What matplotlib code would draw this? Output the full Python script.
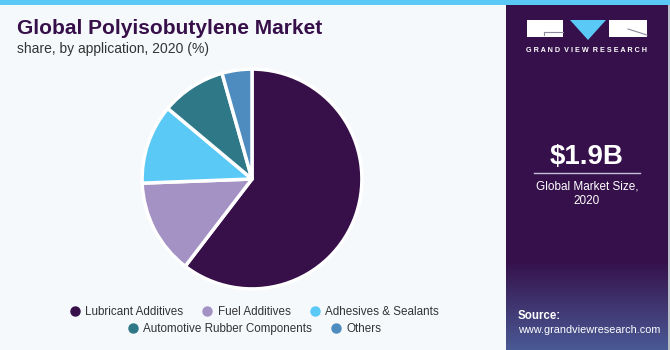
import numpy as np
import matplotlib.pyplot as plt
from matplotlib.lines import Line2D
from matplotlib.patches import Rectangle, Polygon

plt.rcParams['font.family'] = ['Liberation Sans', 'DejaVu Sans']

# Datos (porcentaje por aplicación, 2020)
categorias = ['Lubricant Additives', 'Fuel Additives', 'Adhesives & Sealants',
              'Automotive Rubber Components', 'Others']
valores = [60.4, 14.0, 11.7, 9.5, 4.4]
colores = ['#37104A', '#A492C4', '#5BC9F6', '#2E7888', '#4E8CBF']

titulo = 'Global Polyisobutylene Market'
subtitulo = 'share, by application, 2020 (%)'
tamano_mercado = '$1.9B'

W, H = 670, 350
fig = plt.figure(figsize=(W / 100, H / 100), dpi=100)
fig.patch.set_facecolor('#F5F9FC')

# Franja azul superior
fig.patches.append(Rectangle((0, 1 - 5 / H), 1, 5 / H, transform=fig.transFigure,
                             facecolor='#5BC9F6', edgecolor='none', zorder=5))

# Títulos
fig.text(17 / W, 1 - 28 / H, titulo, fontsize=15, fontweight='bold',
         color='#37104A', va='center', ha='left')
fig.text(17 / W, 1 - 49 / H, subtitulo, fontsize=10, color='#333333',
         va='center', ha='left')

# Gráfico de torta
cx, cy, r = 252, 179, 111
ax = fig.add_axes([(cx - r) / W, (H - cy - r) / H, 2 * r / W, 2 * r / H])
ax.pie(valores, colors=colores, startangle=90, counterclock=False,
       wedgeprops=dict(edgecolor='white', linewidth=2.5, joinstyle='round'))
ax.set_xlim(-1.01, 1.01)
ax.set_ylim(-1.01, 1.01)
ax.axis('off')

# Leyenda en dos filas
def manejador(c):
    return Line2D([], [], marker='o', linestyle='', markersize=6.5,
                  markerfacecolor=c, markeredgecolor=c)

handles = [manejador(c) for c in colores]
for idx, y in [((0, 1, 2), 312), ((3, 4), 329)]:
    leg = fig.legend([handles[i] for i in idx], [categorias[i] for i in idx],
                     loc='center', bbox_to_anchor=(254 / W, 1 - y / H),
                     ncol=len(idx), frameon=False, fontsize=8.4,
                     handletextpad=0.4, columnspacing=1.55, handlelength=1.0,
                     borderpad=0, borderaxespad=0)
    for t in leg.get_texts():
        t.set_color('#333333')

# Panel derecho
px0, px1 = 506, 668
panel = fig.add_axes([px0 / W, 0, (px1 - px0) / W, (H - 5) / H])
filas = 345
top = np.array([0x35, 0x10, 0x4A]) / 255
bottom = np.array([0x4A, 0x5A, 0x95]) / 255
grad = np.zeros((filas, 2, 3))
for i in range(filas):
    t = max(0, (i - 255) / (filas - 255))
    grad[i, :, :] = top * (1 - t) + bottom * t
panel.imshow(grad, aspect='auto', extent=[0, 1, 0, 1])
panel.set_xlim(0, 1)
panel.set_ylim(0, 1)
panel.axis('off')

# Borde gris a la derecha
fig.patches.append(Rectangle((px1 / W, 0), 2 / W, 1 - 5 / H, transform=fig.transFigure,
                             facecolor='#B8BEC6', edgecolor='none', zorder=5))

# Logo
def fx(x):
    return x / W

def fy(y):
    return 1 - y / H

fig.patches.append(Rectangle((fx(527), fy(37)), fx(36), 17 / H, transform=fig.transFigure,
                             facecolor='white', edgecolor='none', zorder=6))
fig.patches.append(Rectangle((fx(609), fy(37)), fx(38), 17 / H, transform=fig.transFigure,
                             facecolor='white', edgecolor='none', zorder=6))
fig.patches.append(Polygon([(fx(570), fy(20)), (fx(606), fy(20)), (fx(588), fy(40))],
                           closed=True, transform=fig.transFigure,
                           facecolor='#5BC9F6', edgecolor='none', zorder=6))
fig.lines.append(Line2D([fx(544), fx(563)], [fy(32), fy(32)], transform=fig.transFigure,
                        color='#8A8A9A', linewidth=0.8, zorder=7))
fig.lines.append(Line2D([fx(544), fx(544)], [fy(32), fy(35)], transform=fig.transFigure,
                        color='#8A8A9A', linewidth=0.8, zorder=7))
fig.lines.append(Line2D([fx(628), fx(647)], [fy(29), fy(35)], transform=fig.transFigure,
                        color='#8A8A9A', linewidth=0.8, zorder=7))
fig.text(fx(587), fy(51), 'G R A N D  V I E W  R E S E A R C H',
         fontsize=5.2, fontweight='bold', color='white', ha='center', va='center', zorder=7)

# Tamaño de mercado
fig.text(fx(587), fy(157), tamano_mercado, fontsize=20, fontweight='bold',
         color='white', ha='center', va='center', zorder=7)
fig.lines.append(Line2D([fx(534), fx(640)], [fy(173), fy(173)], transform=fig.transFigure,
                        color='#C8C0D8', linewidth=1.0, zorder=7))
fig.text(fx(587), fy(186), 'Global Market Size,', fontsize=8.5, color='white',
         ha='center', va='center', zorder=7)
fig.text(fx(587), fy(201), '2020', fontsize=8.5, color='white',
         ha='center', va='center', zorder=7)

# Fuente
fig.text(fx(518), fy(316), 'Source:', fontsize=8.3, fontweight='bold', color='white',
         ha='left', va='center', zorder=7)
fig.text(fx(518), fy(330), 'www.grandviewresearch.com', fontsize=7.8, color='white',
         ha='left', va='center', zorder=7)

fig.savefig('out.png', dpi=100, facecolor=fig.get_facecolor())
